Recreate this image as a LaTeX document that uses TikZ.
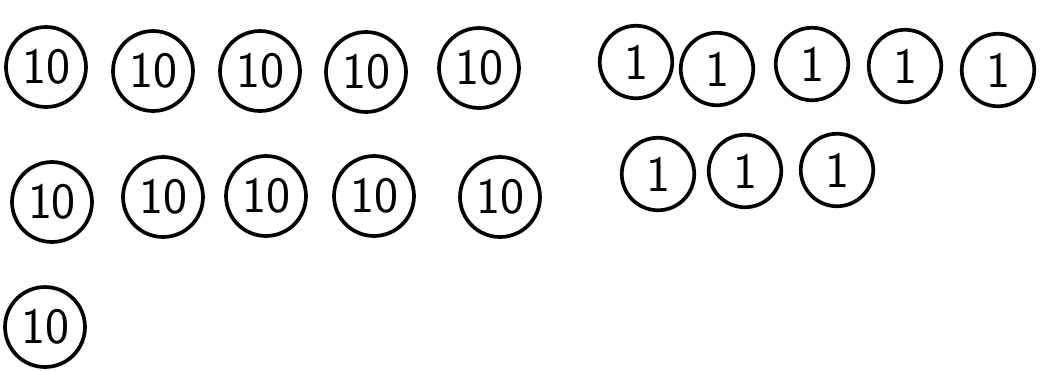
\documentclass[tikz,border=0pt]{standalone}
\usepackage{tikz}
\usetikzlibrary{positioning}

\begin{document}
\begin{tikzpicture}[
    x=0.02cm, y=-0.02cm,
    ten/.style={draw, circle, line width=2.1pt, minimum size=1.6cm, inner sep=0pt, font=\fontsize{29}{30}\selectfont\sffamily},
    one/.style={draw, circle, line width=2.1pt, minimum size=1.45cm, inner sep=0pt, font=\fontsize{29}{30}\selectfont\sffamily}
]
    \useasboundingbox (0,0) rectangle (1045,370);

    % Tens, first row
    \node[ten] (t1) at (46,67) {10};
    \node[ten] (t2) at (153,71) {10};
    \node[ten] (t3) at (260,71) {10};
    \node[ten] (t4) at (366,72) {10};
    \node[ten] (t5) at (479,68) {10};

    % Tens, second row
    \node[ten] (t6) at (52,202) {10};
    \node[ten] (t7) at (163,197) {10};
    \node[ten] (t8) at (266,196) {10};
    \node[ten] (t9) at (374,196) {10};
    \node[ten] (t10) at (500,197) {10};

    % Tens, third row
    \node[ten] (t11) at (45,327) {10};

    % Ones, first row
    \node[one] (o1) at (636,62) {1};
    \node[one] (o2) at (717,69) {1};
    \node[one] (o3) at (812,64) {1};
    \node[one] (o4) at (905,66) {1};
    \node[one] (o5) at (998,70) {1};

    % Ones, second row
    \node[one] (o6) at (658,174) {1};
    \node[one] (o7) at (745,171) {1};
    \node[one] (o8) at (837,170) {1};
\end{tikzpicture}
\end{document}
